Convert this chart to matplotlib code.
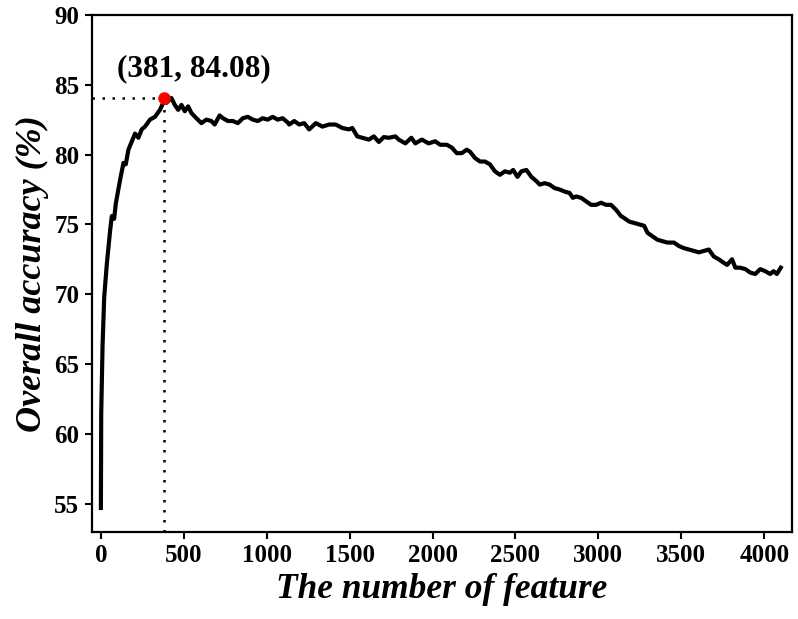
import matplotlib
matplotlib.use("Agg")
import matplotlib.pyplot as plt

features = [0, 2, 10, 20, 36, 56, 66, 80, 90, 116, 136, 150, 166, 185, 206, 226, 246, 266,
            296, 326, 356, 376, 381, 395, 425, 446, 466, 486, 506, 526, 546, 576, 606, 636,
            666, 686, 716, 736, 766, 796, 826, 856, 886, 916, 946, 976, 1006, 1036, 1066,
            1096, 1126, 1136, 1166, 1196, 1226, 1256, 1296, 1336, 1376, 1416, 1456, 1496,
            1516, 1546, 1576, 1616, 1646, 1676, 1706, 1736, 1776, 1796, 1836, 1872, 1896,
            1936, 1976, 2016, 2046, 2086, 2116, 2146, 2176, 2206, 2226, 2256, 2286, 2316,
            2346, 2376, 2406, 2436, 2466, 2486, 2512, 2536, 2566, 2596, 2626, 2646, 2676,
            2706, 2736, 2766, 2796, 2826, 2846, 2866, 2896, 2926, 2956, 2986, 3016, 3046,
            3076, 3106, 3136, 3156, 3186, 3216, 3246, 3276, 3296, 3326, 3356, 3386, 3416,
            3456, 3486, 3516, 3546, 3576, 3606, 3636, 3666, 3696, 3726, 3756, 3776, 3806,
            3826, 3856, 3886, 3916, 3946, 3976, 4006, 4036, 4056, 4076, 4100]
accuracy = [54.7, 61.5, 66.3, 69.8, 72.2, 74.6, 75.6, 75.4, 76.5, 78.2, 79.4, 79.3, 80.35,
            80.9, 81.5, 81.2, 81.8, 82.0, 82.5, 82.7, 83.2, 83.7, 84.08, 83.7, 84.05, 83.55,
            83.2, 83.55, 83.1, 83.45, 82.97, 82.6, 82.25, 82.5, 82.4, 82.15, 82.8, 82.6,
            82.4, 82.4, 82.25, 82.6, 82.7, 82.5, 82.4, 82.6, 82.5, 82.7, 82.5, 82.6, 82.3,
            82.15, 82.4, 82.15, 82.25, 81.8, 82.25, 82.0, 82.15, 82.15, 81.9, 81.8, 81.9,
            81.3, 81.2, 81.07, 81.3, 80.9, 81.25, 81.2, 81.3, 81.07, 80.8, 81.2, 80.8,
            81.07, 80.8, 80.95, 80.7, 80.7, 80.5, 80.1, 80.1, 80.35, 80.2, 79.75, 79.5,
            79.5, 79.3, 78.8, 78.55, 78.8, 78.7, 78.9, 78.4, 78.8, 78.9, 78.4, 78.1, 77.85,
            77.95, 77.85, 77.6, 77.5, 77.35, 77.25, 76.9, 77.0, 76.9, 76.65, 76.4, 76.4,
            76.55, 76.4, 76.4, 76.05, 75.6, 75.45, 75.2, 75.1, 75.0, 74.9, 74.4, 74.15,
            73.9, 73.8, 73.7, 73.7, 73.45, 73.3, 73.2, 73.1, 73.0, 73.1, 73.2, 72.7, 72.5,
            72.25, 72.1, 72.5, 71.9, 71.9, 71.8, 71.55, 71.45, 71.8, 71.65, 71.45, 71.65,
            71.45, 71.9]

best_x = 381
best_y = 84.08
x_ticks = [0, 500, 1000, 1500, 2000, 2500, 3000, 3500, 4000]
y_ticks = [55, 60, 65, 70, 75, 80, 85, 90]

plt.rcParams['font.family'] = ['Liberation Serif', 'DejaVu Serif']
plt.rcParams['font.weight'] = 'bold'

fig = plt.figure(figsize=(7.98, 6.19), dpi=100)
ax = fig.add_axes([0.115, 0.141, 0.878, 0.835])

xmin, xmax = -55, 4170
ymin, ymax = 53, 90

ax.plot(features, accuracy, color='black', lw=3, solid_joinstyle='round', zorder=3)
ax.plot([xmin, best_x], [best_y, best_y], color='black', lw=1.8, linestyle=(0, (1, 3)), zorder=2)
ax.plot([best_x, best_x], [ymin, best_y], color='black', lw=1.8, linestyle=(0, (1, 3)), zorder=2)
ax.plot([best_x], [best_y], 'o', color='red', markersize=8, zorder=4)
ax.text(560, best_y + 1.0, f"({best_x}, {best_y:.2f})", ha='center', va='bottom',
        fontsize=22.5, fontweight='bold')

ax.set_xlim(xmin, xmax)
ax.set_ylim(ymin, ymax)
ax.set_xticks(x_ticks)
ax.set_yticks(y_ticks)
ax.tick_params(axis='both', direction='out', length=5, width=1.5, labelsize=18,
               top=False, right=False, pad=4)
for lab in ax.get_xticklabels() + ax.get_yticklabels():
    lab.set_fontweight('bold')
for s in ax.spines.values():
    s.set_linewidth(1.6)

ax.set_xlabel('The number of feature', fontsize=25.5, fontweight='bold', style='italic', labelpad=4)
ax.set_ylabel('Overall accuracy (%)', fontsize=26, fontweight='bold', style='italic', labelpad=4)

fig.savefig('out.png', dpi=100)
